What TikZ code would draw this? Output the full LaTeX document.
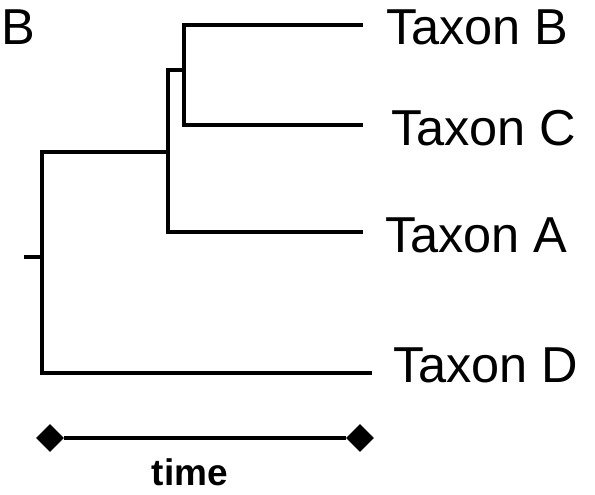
\documentclass[tikz,border=0pt]{standalone}
\usepackage{fontspec}
\setmainfont{Liberation Sans}
\usetikzlibrary{shapes.geometric}
\tikzset{
  branch/.style={line width=4.2pt, line cap=butt, line join=miter},
  taxon/.style={anchor=base west, inner sep=0pt, font=\fontsize{50.5}{60}\selectfont},
  endmark/.style={diamond, fill=black, draw=none, inner sep=0pt, minimum width=28pt, minimum height=28pt},
}
\begin{document}
\begin{tikzpicture}[x=1pt,y=-1pt]
\useasboundingbox (0,0) rectangle (595,495);
% panel letter
\node[taxon] (panel) at (1,45) {B};
% tree nodes
\coordinate (rt) at (24,257);
\coordinate (r) at (42,257);
\coordinate (n1) at (168,152);
\coordinate (n2) at (184,70);
\coordinate (lB) at (363,25);
\coordinate (lC) at (363,125);
\coordinate (lA) at (363,232);
\coordinate (lD) at (372,373);
% labels
\node[taxon] (tB) at (386,45) {Taxon B};
\node[taxon] (tC) at (391,146) {Taxon C};
\node[taxon] (tA) at (385,252) {Taxon A};
\node[taxon] (tD) at (393,382) {Taxon D};
% branches
\draw[branch] (rt) -- (r);
\draw[branch] (n2) |- (lB);
\draw[branch] (n2) |- (lC);
\draw[branch] (n2) -| (n1) |- (lA);
\draw[branch] (n1) -| (r) |- (lD);
% time scale
\node[endmark] (d1) at (50,438) {};
\node[endmark] (d2) at (360,438) {};
\draw[line width=4.2pt] (d1) -- (d2);
\node[anchor=base, inner sep=0pt, font=\fontsize{37}{44}\selectfont\bfseries] (time) at (190,485) {time};
\end{tikzpicture}
\end{document}
